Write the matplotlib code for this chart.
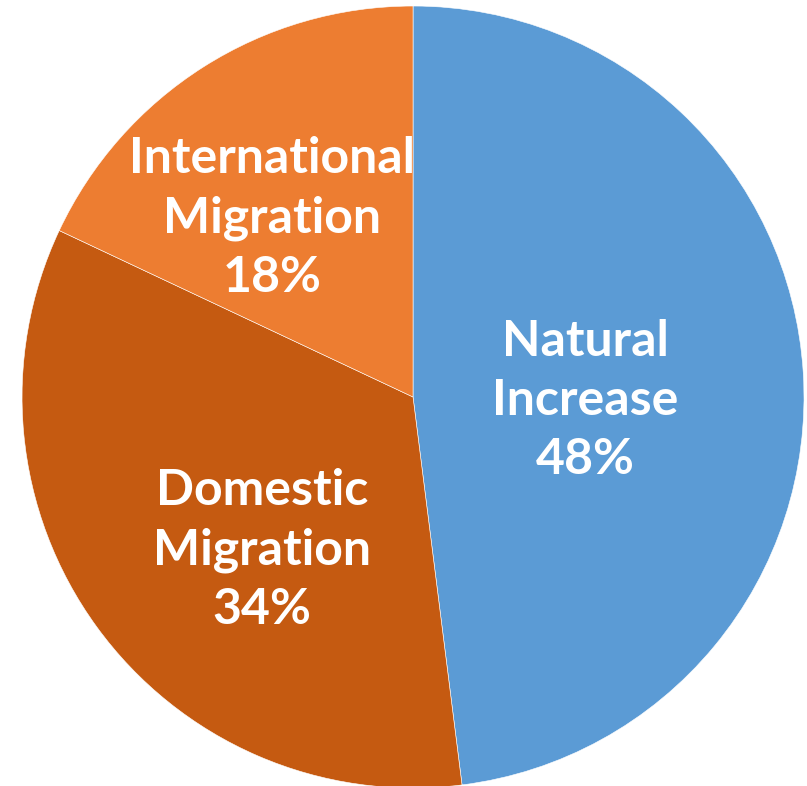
import matplotlib
matplotlib.use("Agg")
import matplotlib.pyplot as plt

categories = ["Natural\nIncrease", "Domestic\nMigration", "International\nMigration"]
shares = [48, 34, 18]
colors = ["#5B9BD5", "#C55A11", "#ED7D31"]
label_pos = [(0.44, -0.008), (-0.386, -0.391), (-0.361, 0.458)]

fig = plt.figure(figsize=(8.07, 7.86), dpi=100)
ax = fig.add_axes([0.0273, -0.0026, 0.969, 0.995])
wedges, _ = ax.pie(shares, colors=colors, startangle=90, counterclock=False,
                   radius=1.0, wedgeprops=dict(edgecolor="white", linewidth=0.4))
for cat, val, (x, y) in zip(categories, shares, label_pos):
    ax.text(x, y, f"{cat}\n{val}%", ha="center", va="center", color="white",
            fontsize=36, fontweight="bold", family=["Lato", "DejaVu Sans"],
            linespacing=1.38)
ax.set_xlim(-1, 1)
ax.set_ylim(-1, 1)
ax.set_aspect("equal")
ax.axis("off")
fig.savefig("out.png", dpi=100)
